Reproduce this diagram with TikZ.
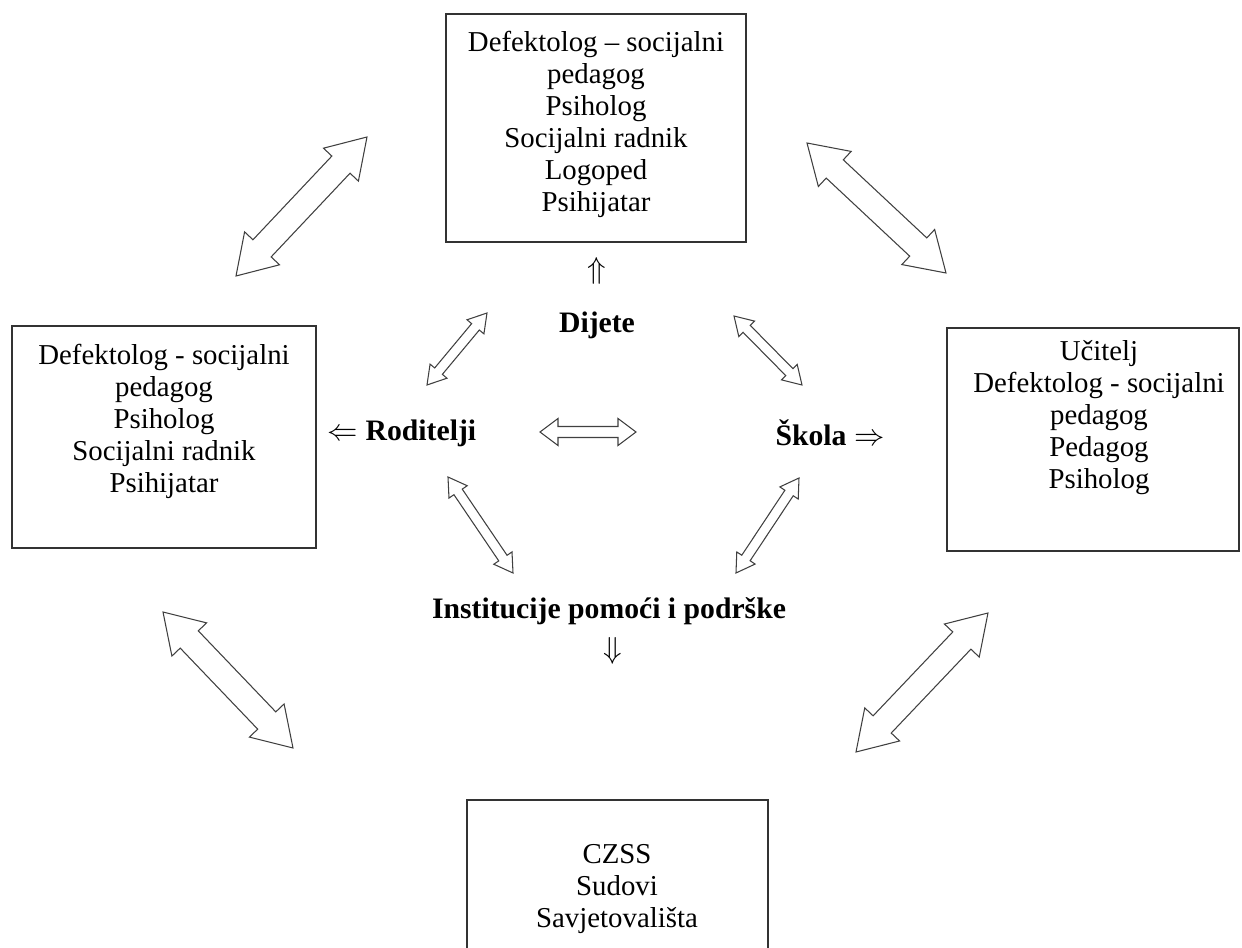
\documentclass[tikz,border=0pt]{standalone}
\usepackage{fontspec}
\setmainfont{Liberation Serif}
\usetikzlibrary{positioning, calc}
\tikzset{
    panel/.style={draw=black!80, line width=0.7pt}, % frame round a group of experts
    members/.style={align=center, font=\fontsize{16.4}{18.2}\selectfont},
    party/.style={font=\fontsize{16.9}{18.2}\selectfont},
    pointer/.style={font=\fontsize{19}{20}\selectfont},
    hollow/.style={draw=black!75, line width=0.6pt, fill=white, line join=miter},
}
% hollow two-way arrow: from, to, head length, head half width, shaft half width
\newcommand{\twoway}[5]{%
    \draw[hollow] (#1) -- ($(#1)!#3!(#2)!#4!90:(#2)$) -- ($(#1)!#3!(#2)!#5!90:(#2)$)
        -- ($(#2)!#3!(#1)!#5!-90:(#1)$) -- ($(#2)!#3!(#1)!#4!-90:(#1)$) -- (#2)
        -- ($(#2)!#3!(#1)!#4!90:(#1)$) -- ($(#2)!#3!(#1)!#5!90:(#1)$)
        -- ($(#1)!#3!(#2)!#5!-90:(#2)$) -- ($(#1)!#3!(#2)!#4!-90:(#2)$) -- cycle;}
\newcommand{\bigway}[2]{\twoway{#1}{#2}{0.76cm}{0.48cm}{0.25cm}}
\newcommand{\smallway}[2]{\twoway{#1}{#2}{0.36cm}{0.22cm}{0.1cm}}

\begin{document}
\begin{tikzpicture}
    \clip (0,0) rectangle (24.84,18.96);
    % frames
    \node[panel, minimum width=6cm, minimum height=4.56cm] (top) at (11.92,16.40) {};
    \node[panel, minimum width=6.08cm, minimum height=4.44cm] (left) at (3.28,10.22) {};
    \node[panel, minimum width=5.84cm, minimum height=4.46cm] (right) at (21.86,10.17) {};
    \node[panel, minimum width=6.02cm, minimum height=3.46cm] (bottom) at (12.35,1.23) {};
    % who works in each place
    \node[members] (toptext) at (11.92,16.48)
        {Defektolog – socijalni\\pedagog\\Psiholog\\Socijalni radnik\\Logoped\\Psihijatar};
    \node[members] (lefttext) at (3.28,10.53)
        {Defektolog - socijalni\\pedagog\\Psiholog\\Socijalni radnik\\Psihijatar};
    \node[members] (righttext) at (21.98,10.6)
        {Učitelj\\Defektolog - socijalni\\pedagog\\Pedagog\\Psiholog};
    \node[members] (bottomtext) at (12.34,1.17)
        {CZSS\\Sudovi\\Savjetovališta};
    % the child and the others
    \node[party] (dijete) at (11.94,12.46) {\bfseries Dijete};
    \node[pointer, above=1.08cm of dijete.center, anchor=center] (up) {$\Uparrow$};
    \node[party] (roditelji) at (8.04,10.3) {$\Leftarrow$ \bfseries Roditelji};
    \node[party] (skola) at (16.6,10.3) {\bfseries Škola $\Rightarrow$};
    \node[party] (institucije) at (12.18,6.74) {\bfseries Institucije pomoći i podrške};
    \node[pointer, below=0.8cm of institucije.center, anchor=center, xshift=0.08cm] (down) {$\Downarrow$};
    % ends of the arrows
    \coordinate (tl-a) at (4.72,13.44);  \coordinate (tl-b) at (7.34,16.22);
    \coordinate (tr-a) at (16.14,16.10); \coordinate (tr-b) at (18.92,13.50);
    \coordinate (bl-a) at (3.26,6.72);   \coordinate (bl-b) at (5.86,4.0);
    \coordinate (br-a) at (17.12,3.92);  \coordinate (br-b) at (19.76,6.70);
    \coordinate (dr-a) at (8.54,11.26);  \coordinate (dr-b) at (9.74,12.70);
    \coordinate (ds-a) at (14.68,12.64); \coordinate (ds-b) at (16.04,11.26);
    \coordinate (rs-a) at (10.8,10.32);  \coordinate (rs-b) at (12.72,10.32);
    \coordinate (ri-a) at (8.96,9.42);   \coordinate (ri-b) at (10.26,7.5);
    \coordinate (si-a) at (14.72,7.5);   \coordinate (si-b) at (15.98,9.4);
    \bigway{tl-a}{tl-b}
    \bigway{tr-a}{tr-b}
    \bigway{bl-a}{bl-b}
    \bigway{br-a}{br-b}
    \smallway{dr-a}{dr-b}
    \smallway{ds-a}{ds-b}
    \twoway{rs-a}{rs-b}{0.36cm}{0.27cm}{0.11cm}
    \smallway{ri-a}{ri-b}
    \smallway{si-a}{si-b}
\end{tikzpicture}
\end{document}
